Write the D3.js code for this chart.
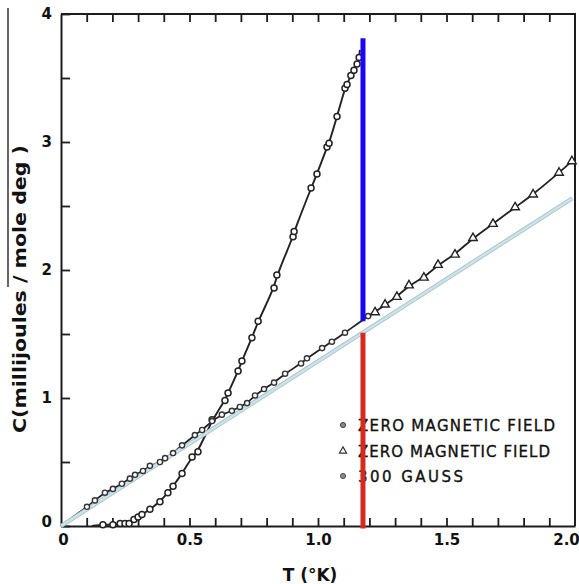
<!DOCTYPE html>
<html>
<head>
<meta charset="utf-8">
<script src="https://cdn.jsdelivr.net/npm/d3@7"></script>
<style>
  html, body { margin: 0; padding: 0; background: #fff; }
  svg { display: block; }
  text { font-family: "DejaVu Sans", "Liberation Sans", sans-serif; fill: #111; }
</style>
</head>
<body>
<svg id="chart" width="579" height="584"></svg>
<script>
// Specific heat of aluminium near its superconducting transition.

// Superconducting state, zero magnetic field (open circles)
const scTemp = [0.163, 0.202, 0.230, 0.249, 0.265, 0.284, 0.300, 0.315, 0.346, 0.385,
                0.416, 0.436, 0.471, 0.510, 0.533, 0.588, 0.638, 0.650, 0.689, 0.704,
                0.743, 0.767, 0.829, 0.840, 0.903, 0.907, 0.973, 0.996, 1.035, 1.043,
                1.074, 1.105, 1.113, 1.128, 1.140, 1.152, 1.160];
const scHeat = [0.01, 0.01, 0.02, 0.02, 0.02, 0.05, 0.07, 0.09, 0.13, 0.19,
                0.26, 0.31, 0.41, 0.54, 0.58, 0.83, 0.98, 1.04, 1.21, 1.29,
                1.47, 1.60, 1.86, 1.96, 2.26, 2.30, 2.64, 2.75, 2.96, 2.99,
                3.20, 3.42, 3.45, 3.52, 3.56, 3.61, 3.66];

// Normal state held by 300 gauss (small circles)
const fieldTemp = [0.101, 0.132, 0.171, 0.202, 0.237, 0.268, 0.288, 0.319, 0.346, 0.385,
                   0.405, 0.436, 0.471, 0.521, 0.549, 0.588, 0.626, 0.665, 0.696, 0.724,
                   0.755, 0.790, 0.829, 0.872, 0.934, 0.957, 1.016, 1.054, 1.105, 1.195];
const fieldHeat = [0.15, 0.20, 0.26, 0.29, 0.33, 0.37, 0.40, 0.43, 0.47, 0.50,
                   0.53, 0.57, 0.63, 0.71, 0.75, 0.82, 0.87, 0.90, 0.93, 0.96,
                   1.02, 1.07, 1.12, 1.19, 1.27, 1.31, 1.39, 1.44, 1.51, 1.64];

// Normal state above the transition, zero magnetic field (open triangles)
const normTemp = [1.222, 1.261, 1.307, 1.354, 1.412, 1.467, 1.533, 1.603, 1.681, 1.767,
                  1.837, 1.938, 1.988];
const normHeat = [1.67, 1.73, 1.79, 1.88, 1.94, 2.04, 2.12, 2.25, 2.36, 2.49,
                  2.59, 2.76, 2.85];

// Electronic term gamma*T (straight line)
const gammaTemp = [0, 1.99];
const gammaHeat = [0, 2.56];

// Transition temperature marker
const tcTemp = 1.175;
const tcUpper = [1.60, 3.81];
const tcLower = [-0.02, 1.51];

// Axis ticks
const xMajor = [0, 0.5, 1.0, 1.5, 2.0];
const xMajorLabels = ["0", "0.5", "1.0", "1.5", "2.0"];
const xMinor = d3.range(1, 20).map(i => i / 10);
const yTicks = d3.range(0, 9).map(i => i / 2);
const yLabels = ["0", "", "1", "", "2", "", "3", "", "4"];

const legendLabels = ["ZERO MAGNETIC FIELD", "ZERO MAGNETIC FIELD", "300 GAUSS"];

const svg = d3.select("#chart");
const x = d3.scaleLinear().domain([0, 2]).range([61, 575]);
const y = d3.scaleLinear().domain([0, 4]).range([526, 14]);
const ink = "#1c1c1c";

// scanned page edge
svg.append("line").attr("x1", 8).attr("x2", 8).attr("y1", 8).attr("y2", 287)
  .attr("stroke", "#111").attr("stroke-width", 1.3);

// frame: top and right sides
svg.append("path")
  .attr("d", `M${x(0)},${y(4)}H${x(2)}V${y(0)}`)
  .attr("fill", "none").attr("stroke", ink).attr("stroke-width", 2);

// top minor ticks (pointing down)
svg.append("g").attr("transform", `translate(0,${y(4)})`)
  .call(d3.axisTop(x).tickValues(xMinor).tickSizeInner(-8).tickSizeOuter(0).tickFormat(""))
  .call(g => g.select(".domain").remove())
  .call(g => g.selectAll("line").attr("stroke", ink).attr("stroke-width", 1.8));

// bottom axis: minor ticks
svg.append("g").attr("transform", `translate(0,${y(0)})`)
  .call(d3.axisBottom(x).tickValues(xMinor).tickSizeInner(-8).tickSizeOuter(0).tickFormat(""))
  .call(g => g.select(".domain").attr("stroke", ink).attr("stroke-width", 2))
  .call(g => g.selectAll("line").attr("stroke", ink).attr("stroke-width", 1.8));

// bottom axis: labels
const xLab = svg.append("g").attr("transform", `translate(0,${y(0)})`)
  .call(d3.axisBottom(x).tickValues(xMajor).tickSize(0).tickPadding(8)
    .tickFormat((d, i) => xMajorLabels[i]));
xLab.select(".domain").remove();
xLab.selectAll("text").attr("font-size", 15).attr("font-weight", "bold")
  .attr("font-family", "DejaVu Sans").attr("fill", "#111")
  .attr("dx", (d, i) => i === 0 ? 2 : (i === xMajor.length - 1 ? -9 : 0));

// left axis
const yAx = svg.append("g").attr("transform", `translate(${x(0)},0)`)
  .call(d3.axisLeft(y).tickValues(yTicks).tickSizeInner(-9).tickSizeOuter(0).tickPadding(9)
    .tickFormat((d, i) => yLabels[i]));
yAx.select(".domain").attr("stroke", ink).attr("stroke-width", 2);
yAx.selectAll("line").attr("stroke", ink).attr("stroke-width", 1.8);
yAx.selectAll("text").attr("font-size", 15).attr("font-weight", "bold")
  .attr("font-family", "DejaVu Sans").attr("fill", "#111")
  .attr("dy", (d) => d === 0 ? "0.05em" : "0.32em");

// axis titles
svg.append("text").attr("x", 310).attr("y", 581).attr("text-anchor", "middle")
  .attr("font-size", 17).attr("font-weight", "bold").text("T (°K)");
svg.append("text").attr("transform", "translate(26,289) rotate(-90)")
  .attr("text-anchor", "middle").attr("font-size", 17.5).attr("font-weight", "bold")
  .attr("textLength", 288).attr("lengthAdjust", "spacingAndGlyphs")
  .text("C(millijoules / mole deg )");

const line = d3.line().x(d => x(d[0])).y(d => y(d[1]));

const scPts = scTemp.map((t, i) => [t, scHeat[i]]);
const fieldPts = fieldTemp.map((t, i) => [t, fieldHeat[i]]);
const normPts = normTemp.map((t, i) => [t, normHeat[i]]);
const normalCurve = [[0, 0]].concat(fieldPts, normPts);

const smooth = d3.line().x(d => x(d[0])).y(d => y(d[1])).curve(d3.curveBasis);

svg.append("path").attr("d", smooth(normalCurve))
  .attr("fill", "none").attr("stroke", "#222").attr("stroke-width", 1.8);
svg.append("path").attr("d", smooth([[0.12, 0.0]].concat(scPts, [[1.163, 3.72]])))
  .attr("fill", "none").attr("stroke", "#222").attr("stroke-width", 1.9);

// gamma*T line
const gammaPts = gammaTemp.map((t, i) => [t, gammaHeat[i]]);
svg.append("path").attr("d", line(gammaPts))
  .attr("fill", "none").attr("stroke", "#a9c4cb").attr("stroke-width", 4.2);
svg.append("path").attr("d", line(gammaPts))
  .attr("fill", "none").attr("stroke", "#cde3e8").attr("stroke-width", 2.4);

// markers
svg.append("g").selectAll("circle").data(scPts).join("circle")
  .attr("cx", d => x(d[0])).attr("cy", d => y(d[1])).attr("r", 3)
  .attr("fill", "#fff").attr("stroke", "#222").attr("stroke-width", 1.5);
svg.append("g").selectAll("circle").data(fieldPts).join("circle")
  .attr("cx", d => x(d[0])).attr("cy", d => y(d[1])).attr("r", 2.6)
  .attr("fill", "#fff").attr("stroke", "#333").attr("stroke-width", 1.4);
const tri = d3.symbol().type(d3.symbolTriangle).size(32);
svg.append("g").selectAll("path").data(normPts).join("path")
  .attr("transform", d => `translate(${x(d[0])},${y(d[1])})`)
  .attr("d", tri).attr("fill", "#fff").attr("stroke", "#222").attr("stroke-width", 1.4);

// legend
const lg = svg.append("g");
const rowsY = [425, 451, 476];
lg.append("circle").attr("cx", 343).attr("cy", rowsY[0]).attr("r", 2.6)
  .attr("fill", "#888").attr("stroke", "#444").attr("stroke-width", 1);
lg.append("path").attr("transform", `translate(343,${rowsY[1]})`)
  .attr("d", d3.symbol().type(d3.symbolTriangle).size(22))
  .attr("fill", "#fff").attr("stroke", "#333").attr("stroke-width", 1.2);
lg.append("circle").attr("cx", 343).attr("cy", rowsY[2]).attr("r", 2.6)
  .attr("fill", "#888").attr("stroke", "#555").attr("stroke-width", 1);
const lens = [197, 192, 105];
lg.selectAll("text").data(legendLabels).join("text")
  .attr("x", 358).attr("y", (d, i) => rowsY[i] + 5.5)
  .attr("font-size", 15).attr("font-weight", "normal")
  .attr("stroke", "#111").attr("stroke-width", 0.35)
  .attr("textLength", (d, i) => lens[i]).attr("lengthAdjust", "spacing")
  .text(d => d);

// transition temperature marker
svg.append("line").attr("x1", x(tcTemp)).attr("x2", x(tcTemp))
  .attr("y1", y(tcUpper[0])).attr("y2", y(tcUpper[1]))
  .attr("stroke", "#1a08f5").attr("stroke-width", 5);
svg.append("line").attr("x1", x(tcTemp)).attr("x2", x(tcTemp))
  .attr("y1", y(tcLower[0])).attr("y2", y(tcLower[1]))
  .attr("stroke", "#d42a1f").attr("stroke-width", 5);
</script>
</body>
</html>
